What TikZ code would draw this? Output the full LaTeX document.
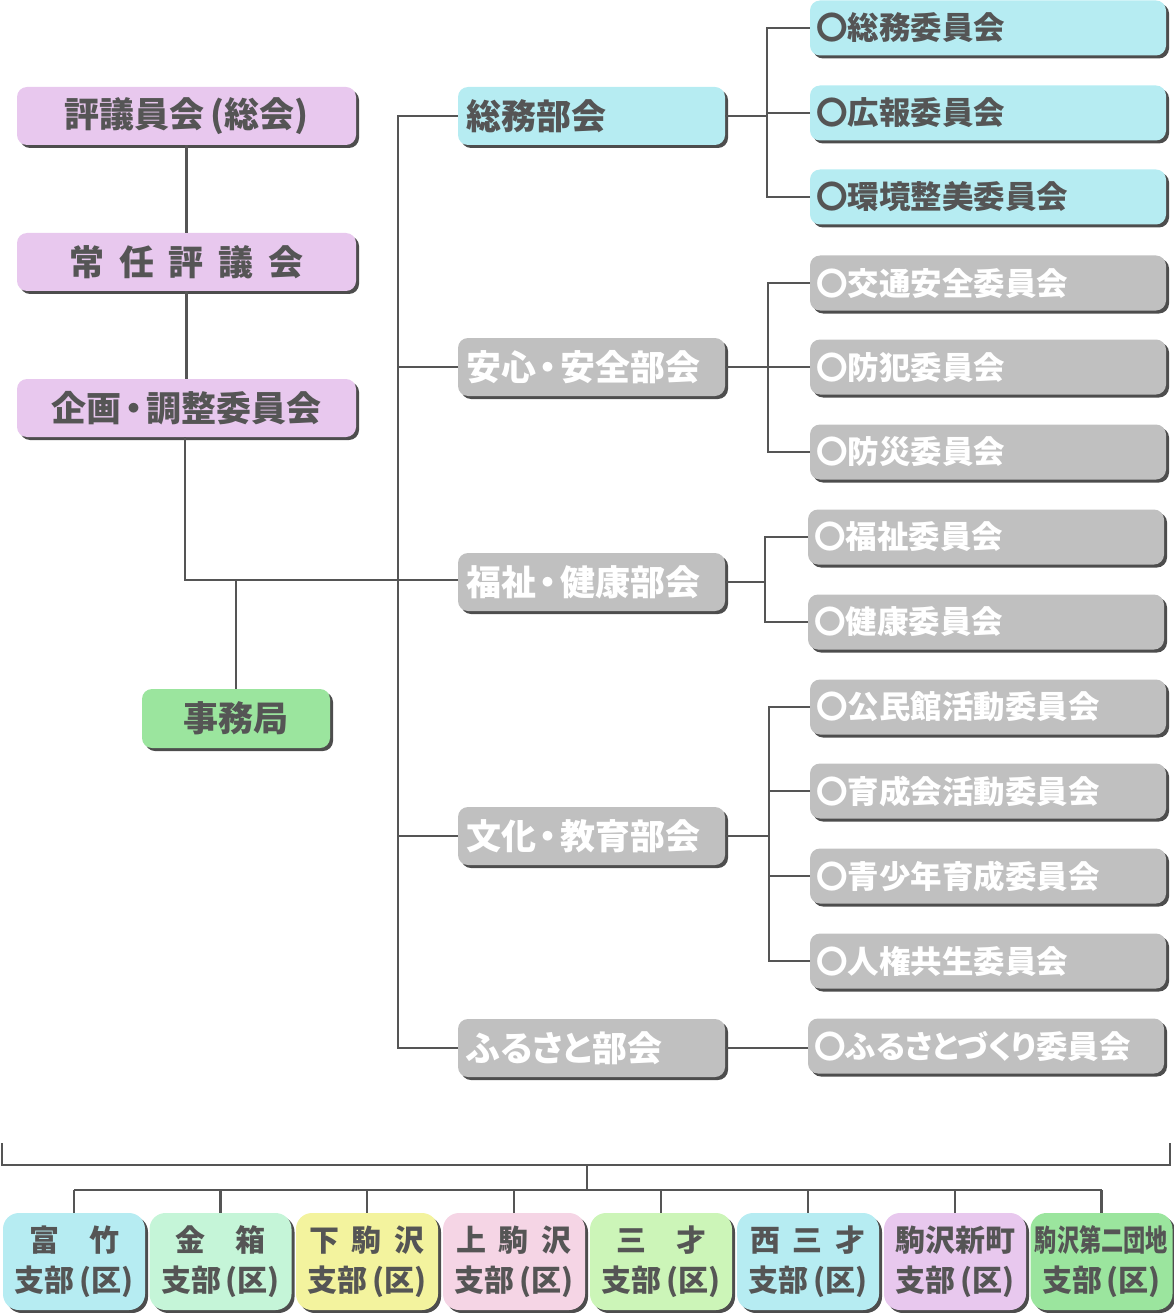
\documentclass[tikz,border=0pt]{standalone}
\usepackage{fontspec}
\newfontfamily\jp{Noto Sans CJK JP}[BoldFont={Noto Sans CJK JP Black}]
\newfontfamily\jpp{Noto Sans CJK JP}[BoldFont={Noto Sans CJK JP Black}, RawFeature=+palt]
\usetikzlibrary{shadows}
\definecolor{txt}{HTML}{555555}
\definecolor{shd}{HTML}{4D4D4D}
\definecolor{lav}{HTML}{E8C8EE}
\definecolor{cya}{HTML}{B6ECF2}
\definecolor{gry}{HTML}{C0C0C0}
\definecolor{grn}{HTML}{9BE59E}
\definecolor{mint}{HTML}{C5F5D8}
\definecolor{yel}{HTML}{F3F39E}
\definecolor{pnk}{HTML}{F5D5E5}
\definecolor{lime}{HTML}{CCF5B8}
\newcommand\jgap{\hspace{0.42em}}
\newcommand\jdot{\hspace{-0.15em}・\hspace{-0.15em}}
\newcommand\maru{〇}
\tikzset{
  bx/.style={rounded corners=10pt, inner sep=0pt, font=\jp\bfseries\fontsize{35}{40}\selectfont, text=txt,
    drop shadow={shadow xshift=3pt, shadow yshift=-3pt, fill=shd, opacity=1}},
  leftbox/.style={bx, fill=lav, minimum width=339pt, minimum height=58pt},
  dept/.style={bx, minimum height=58pt, text width=251pt, inner xsep=8pt, align=left},
  cmte/.style={bx, font=\jp\bfseries\fontsize{31.5}{36}\selectfont, minimum height=55pt, text width=344pt, inner xsep=6pt, align=left},
  branch/.style={bx, rounded corners=16pt, font=\jp\bfseries\fontsize{30}{40}\selectfont, minimum width=142pt, minimum height=97pt, align=center},
  ln/.style={draw=txt, line width=2.6pt},
}
\begin{document}
\begin{tikzpicture}[x=1pt,y=-1pt]
\useasboundingbox (0,0) rectangle (1173,1313);
% left column
\node[leftbox] (L1) at (186.5,116) {評議員会\,(総会)};
\node[leftbox] (L2) at (186.5,262) {常\jgap 任\jgap 評\jgap 議\jgap 会};
\node[leftbox] (L3) at (186.5,408) {企画\jdot 調整委員会};
\node[bx, fill=grn, minimum width=188pt, minimum height=59pt] (JM) at (236,718.5) {事務局};
% departments
\node[dept, fill=cya] (D1) at (591.5,116) {総務部会};
\node[dept, fill=gry, text=white] (D2) at (591.5,367) {安心\jdot 安全部会};
\node[dept, fill=gry, text=white] (D3) at (591.5,582) {福祉\jdot 健康部会};
\node[dept, fill=gry, text=white] (D4) at (591.5,836) {文化\jdot 教育部会};
\node[dept, fill=gry, text=white] (D5) at (591.5,1048) {{\jpp\bfseries ふるさと}部会};
% committees
\node[cmte, fill=cya] (C1) at (988,28) {\maru 総務委員会};
\node[cmte, fill=cya] (C2) at (988,113) {\maru 広報委員会};
\node[cmte, fill=cya] (C3) at (988,197) {\maru 環境整美委員会};
\node[cmte, fill=gry, text=white] (C4) at (988,283) {\maru 交通安全委員会};
\node[cmte, fill=gry, text=white] (C5) at (988,367) {\maru 防犯委員会};
\node[cmte, fill=gry, text=white] (C6) at (988,452) {\maru 防災委員会};
\node[cmte, fill=gry, text=white] (C7) at (986,537) {\maru 福祉委員会};
\node[cmte, fill=gry, text=white] (C8) at (986,622) {\maru 健康委員会};
\node[cmte, fill=gry, text=white] (C9) at (988,707) {\maru 公民館活動委員会};
\node[cmte, fill=gry, text=white] (C10) at (988,791) {\maru 育成会活動委員会};
\node[cmte, fill=gry, text=white] (C11) at (988,876) {\maru 青少年育成委員会};
\node[cmte, fill=gry, text=white] (C12) at (988,961) {\maru 人権共生委員会};
\node[cmte, fill=gry, text=white] (C13) at (986,1046) {\maru{\jpp\bfseries ふるさとづくり}委員会};
% branches
\node[branch, fill=cya] (B1) at (74,1261.5) {富　竹\\支部\,(区)};
\node[branch, fill=mint] (B2) at (220.5,1261.5) {金　箱\\支部\,(区)};
\node[branch, fill=yel] (B3) at (367,1261.5) {下\jgap 駒\jgap 沢\\支部\,(区)};
\node[branch, fill=pnk] (B4) at (514,1261.5) {上\jgap 駒\jgap 沢\\支部\,(区)};
\node[branch, fill=lime] (B5) at (661,1261.5) {三　才\\支部\,(区)};
\node[branch, fill=cya] (B6) at (808,1261.5) {西\jgap 三\jgap 才\\支部\,(区)};
\node[branch, fill=lav] (B7) at (955,1261.5) {駒沢新町\\支部\,(区)};
\node[branch, fill=grn] (B8) at (1101.5,1261.5) {\scalebox{0.74}[1]{駒沢第二団地}\\支部\,(区)};
% connectors: left column
\coordinate (jx) at (185,580);
\draw[ln] (L1) -- (L2);
\draw[ln] (L2) -- (L3);
\draw[ln] (L3.south -| jx) -- (jx) -- (D3.west |- jx);
\draw[ln] (JM.north) -- (JM.north |- jx);
% trunk
\coordinate (tr) at (398,0);
\draw[ln] (D1.west) -- (D1.west -| tr) -- (D5.west -| tr) -- (D5.west);
\draw[ln] (D2.west -| tr) -- (D2.west);
\draw[ln] (D4.west -| tr) -- (D4.west);
% committee brackets
\coordinate (k1) at (767,0);
\draw[ln] (D1.east) -- (D1.east -| k1);
\draw[ln] (C1.west) -- (C1.west -| k1) -- (C3.west -| k1) -- (C3.west);
\draw[ln] (C2.west -| k1) -- (C2.west);
\coordinate (k2) at (768,0);
\draw[ln] (D2.east) -- (D2.east -| k2);
\draw[ln] (C4.west) -- (C4.west -| k2) -- (C6.west -| k2) -- (C6.west);
\draw[ln] (C5.west -| k2) -- (C5.west);
\coordinate (k3) at (765,0);
\draw[ln] (D3.east) -- (D3.east -| k3);
\draw[ln] (C7.west) -- (C7.west -| k3) -- (C8.west -| k3) -- (C8.west);
\coordinate (k4) at (769,0);
\draw[ln] (D4.east) -- (D4.east -| k4);
\draw[ln] (C9.west) -- (C9.west -| k4) -- (C12.west -| k4) -- (C12.west);
\draw[ln] (C10.west -| k4) -- (C10.west);
\draw[ln] (C11.west -| k4) -- (C11.west);
\draw[ln] (D5.east) -- (C13.west |- D5.east);
% bottom bracket
\coordinate (bl) at (2,1143);
\coordinate (br) at (1170,1143);
\coordinate (bm) at (587,1165);
\coordinate (hb) at (0,1190);
\draw[ln] (bl) -- (bl |- bm) -- (br |- bm) -- (br);
\draw[ln] (bm) -- (bm |- hb);
\draw[ln] (B1.north |- hb) -- (B8.north |- hb);
\foreach \i in {1,...,8} { \draw[ln] (B\i.north |- hb) -- (B\i.north); }
\end{tikzpicture}
\end{document}
